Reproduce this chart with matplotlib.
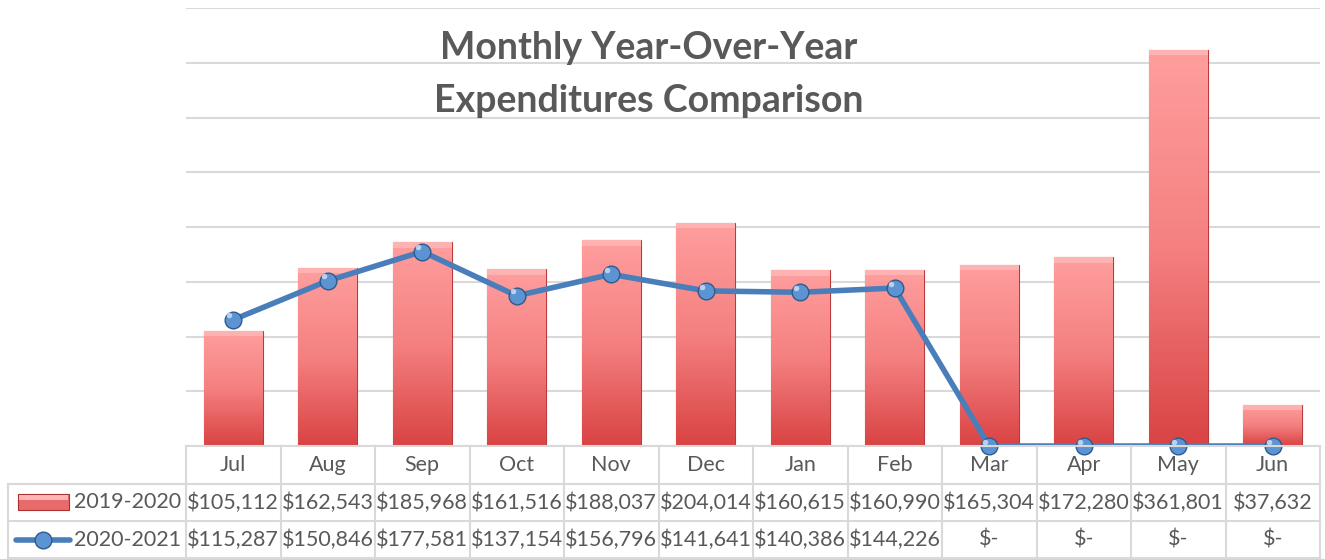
import matplotlib
matplotlib.use("Agg")
import matplotlib.pyplot as plt
import numpy as np
from matplotlib.lines import Line2D
from matplotlib.patches import Rectangle
from matplotlib.colors import LinearSegmentedColormap

months = ["Jul", "Aug", "Sep", "Oct", "Nov", "Dec", "Jan", "Feb", "Mar", "Apr", "May", "Jun"]
fy2020 = [105112, 162543, 185968, 161516, 188037, 204014, 160615, 160990, 165304, 172280, 361801, 37632]
fy2021 = [115287, 150846, 177581, 137154, 156796, 141641, 140386, 144226, 0, 0, 0, 0]
series_names = ["2019-2020", "2020-2021"]

FONT = ["Lato", "DejaVu Sans"]
plt.rcParams["font.family"] = FONT
TXT = "#595959"
GRID = "#D9D9D9"

W, H = 1325, 559
fig = plt.figure(figsize=(W / 100, H / 100), dpi=100)
L, R, T, B = 186, 1320, 8, 446
ax = fig.add_axes([L / W, 1 - B / H, (R - L) / W, (B - T) / H])
ax.set_yticks(np.arange(0, 400001, 50000))
ax.yaxis.grid(True, color=GRID, lw=1.5)
ax.set_axisbelow(True)
for s in ax.spines.values():
    s.set_visible(False)
ax.tick_params(left=False, bottom=False, labelleft=False, labelbottom=False)

x = np.arange(len(months))
bars = ax.bar(x, fy2020, width=0.62, color="#E05A5A", edgecolor="#B83A3A", lw=0.8, zorder=2)
cmap = LinearSegmentedColormap.from_list("rg", ["#FF9E9E", "#F58080", "#D94343"])
grad = np.linspace(1, 0, 256).reshape(-1, 1)
for b in bars:
    bx, by, bw, bh = b.get_x(), b.get_y(), b.get_width(), b.get_height()
    im = ax.imshow(grad, cmap=cmap, aspect="auto", extent=[bx, bx + bw, by, by + bh],
                   origin="lower", zorder=2.1, vmin=0, vmax=1)
    im.set_clip_path(b)
    ax.add_patch(Rectangle((bx, by + bh - 5000), bw, 5000, facecolor="#FFC8C8", edgecolor="none",
                           alpha=0.5, zorder=2.2))
ax.set_xlim(-0.5, len(months) - 0.5)
ax.set_ylim(0, 400000)

ax.plot(x, fy2021, color="#4A7EBB", lw=4, zorder=3, solid_capstyle="round")
ax.plot(x, fy2021, "o", ms=12, mfc="#5B93D3", mec="#2E5A8C", mew=1, zorder=4, clip_on=False)
ax.plot(x - 0.04, np.array(fy2021) + 4000, "o", ms=4, mfc="#CFE3F7", mec="none", zorder=5,
        alpha=0.8, clip_on=False)

# Title
fig.text(649 / W, 1 - 48 / H, "Monthly Year-Over-Year", ha="center", va="center",
         fontsize=27, fontweight="bold", color=TXT)
fig.text(649 / W, 1 - 101 / H, "Expenditures Comparison", ha="center", va="center",
         fontsize=27, fontweight="bold", color=TXT)

# Data table
ft = fig.transFigure
def fx(px):
    return px / W
def fy(py):
    return 1 - py / H

colw = (R - L) / len(months)
lines = []
lines.append(((L, 446), (R, 446)))
lines.append(((8, 484), (R, 484)))
lines.append(((8, 521), (R, 521)))
lines.append(((8, 557.5), (R, 557.5)))
lines.append(((8, 484), (8, 559)))
for i in range(len(months) + 1):
    px = L + i * colw
    lines.append(((px, 446), (px, 559)))
for (x0, y0), (x1, y1) in lines:
    fig.add_artist(Line2D([fx(x0), fx(x1)], [fy(y0), fy(y1)], transform=ft, color=GRID, lw=1.5))

def money(v):
    return "$-" if v == 0 else "${:,.0f}".format(v)

FS = 15.5
for i, m in enumerate(months):
    cx = L + (i + 0.5) * colw
    fig.text(fx(cx), fy(465), m, ha="center", va="center", fontsize=FS, color=TXT)
    fig.text(fx(cx), fy(502.5), money(fy2020[i]), ha="center", va="center", fontsize=FS, color=TXT)
    fig.text(fx(cx), fy(540), money(fy2021[i]), ha="center", va="center", fontsize=FS, color=TXT)

fig.text(fx(74), fy(502.5), series_names[0], ha="left", va="center", fontsize=FS, color=TXT)
fig.text(fx(74), fy(540), series_names[1], ha="left", va="center", fontsize=FS, color=TXT)

# legend keys
fig.add_artist(Rectangle((fx(18), fy(510)), fx(69) - fx(18), fy(494) - fy(510), transform=ft,
                         facecolor="#E86A6A", edgecolor="#A83232", lw=0.8))
fig.add_artist(Rectangle((fx(19), fy(500)), fx(68) - fx(19), fy(494.5) - fy(500), transform=ft,
                         facecolor="#FFB5B5", edgecolor="none"))
fig.add_artist(Line2D([fx(16), fx(70)], [fy(540), fy(540)], transform=ft, color="#4A7EBB", lw=4,
                      solid_capstyle="round"))
fig.add_artist(Line2D([fx(43)], [fy(540)], transform=ft, marker="o", ms=12, mfc="#5B93D3",
                      mec="#2E5A8C", mew=1))

fig.savefig("out.png", dpi=100)
